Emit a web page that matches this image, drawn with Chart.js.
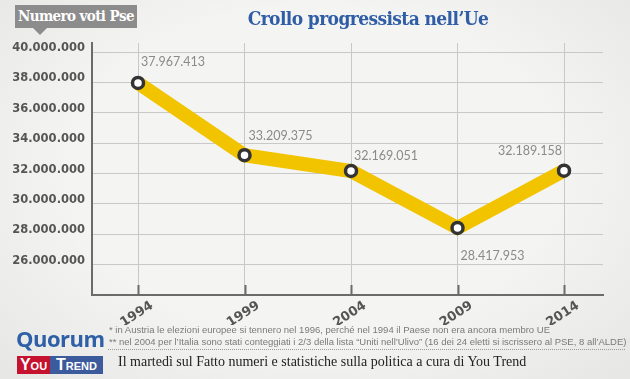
<!DOCTYPE html>
<html><head><meta charset="utf-8">
<script src="https://cdn.jsdelivr.net/npm/chart.js@4/dist/chart.umd.min.js"></script>
<style>
html,body{margin:0;padding:0;}
body{width:630px;height:379px;position:relative;overflow:hidden;background:radial-gradient(ellipse at 50% 45%, #f4f4f2 55%, #e6e6e4 100%);}
#c{position:absolute;left:0;top:0;}
#tag{position:absolute;left:15px;top:5px;width:122px;height:23px;background:#8c8c8c;color:#fff;font:bold 15px "DejaVu Serif Condensed","DejaVu Serif",serif;font-stretch:condensed;line-height:23px;text-align:center;letter-spacing:-0.6px;}
#tag:after{content:"";position:absolute;left:18px;top:23px;border-left:7px solid transparent;border-right:7px solid transparent;border-top:7px solid #8c8c8c;}
#title{position:absolute;left:243px;top:7px;width:250px;text-align:center;color:#2f5da6;font:bold 19px "DejaVu Serif Condensed","DejaVu Serif",serif;font-stretch:condensed;letter-spacing:-0.6px;white-space:nowrap;}
#quorum{position:absolute;left:16px;top:325px;color:#2f5fa6;font:bold 22px "Open Sans",sans-serif;letter-spacing:-0.5px;line-height:26px;}
#yt{position:absolute;left:17px;top:356px;height:18px;width:86px;font:bold 16px "Liberation Sans Narrow","Liberation Sans",sans-serif;font-variant:small-caps;color:#fff;line-height:18px;}
#yt span{display:inline-block;height:18px;text-align:center;vertical-align:top;}
#yt .y{background:#c4122f;width:33px;}
#yt .t{background:#3b5b9c;width:53px;}
.fn{position:absolute;left:109px;color:#7a7a7a;font:9.5px "Liberation Sans Narrow","Liberation Sans",sans-serif;white-space:nowrap;}
#dots{position:absolute;left:108px;top:349px;width:517px;border-top:1px dotted #9a9a9a;}
#sub{position:absolute;left:118px;top:354px;color:#222;font:14px "Liberation Serif",serif;white-space:nowrap;}
</style></head><body>
<canvas id="c" width="630" height="379"></canvas>
<div id="tag">Numero voti Pse</div>
<div id="title">Crollo progressista nell’Ue</div>
<div id="quorum">Quorum</div>
<div id="yt"><span class="y">You</span><span class="t">Trend</span></div>
<div class="fn" style="top:324px">* in Austria le elezioni europee si tennero nel 1996, perché nel 1994 il Paese non era ancora membro UE</div>
<div class="fn" style="top:336px">** nel 2004 per l’Italia sono stati conteggiati i 2/3 della lista “Uniti nell’Ulivo” (16 dei 24 eletti si iscrissero al PSE, 8 all’ALDE)</div>
<div id="dots"></div>
<div id="sub">Il martedì sul Fatto numeri e statistiche sulla politica a cura di You Trend</div>
<script>
// ---- data ----
const years = [1994, 1999, 2004, 2009, 2014];
const votes = [37967413, 33209375, 32169051, 28417953, 32189158];
const yTickValues = [24000000, 26000000, 28000000, 30000000, 32000000, 34000000, 36000000, 38000000, 40000000];

// label placement (style only): [dx, dy, align]
const labelPlacement = [[3, -21, 'left'], [4, -19, 'left'], [3, -15, 'left'], [3, 28, 'left'], [-2, -20, 'right']];

function fmt(n){ return String(n).replace(/\B(?=(\d{3})+(?!\d))/g, '.'); }

const labelPlugin = {
  id: 'valueLabels',
  beforeDatasetsDraw(chart){
    const ctx = chart.ctx, xs = chart.scales.x, area = chart.chartArea;
    ctx.save();
    ctx.strokeStyle = '#6b6b6b'; ctx.lineWidth = 2;
    years.forEach(y => {
      const px = Math.round(xs.getPixelForValue(y)) + 0.5;
      ctx.beginPath(); ctx.moveTo(px, area.bottom); ctx.lineTo(px, area.bottom - 10); ctx.stroke();
    });
    ctx.restore();
  },
  afterDatasetsDraw(chart){
    const ctx = chart.ctx, meta = chart.getDatasetMeta(0);
    ctx.save();
    ctx.font = '12.5px Lato, "Open Sans", sans-serif';
    ctx.fillStyle = '#8a8a8a';
    ctx.textBaseline = 'middle';
    meta.data.forEach((pt, i) => {
      const p = labelPlacement[i];
      ctx.textAlign = p[2];
      ctx.fillText(fmt(votes[i]), pt.x + p[0], pt.y + p[1]);
    });
    ctx.restore();
  }
};

const yFont = {family: '"DejaVu Sans", sans-serif', size: 11.5, weight: 'bold'};
const xFont = {family: '"DejaVu Sans", sans-serif', size: 13, weight: 'bold'};

new Chart(document.getElementById('c'), {
  type: 'line',
  data: {
    datasets: [{
      data: years.map((y, i) => ({x: y, y: votes[i]})),
      borderColor: '#f2c400',
      borderWidth: 14,
      borderJoinStyle: 'miter',
      tension: 0,
      pointRadius: 5.5,
      pointBorderWidth: 3.5,
      pointBackgroundColor: '#ffffff',
      pointBorderColor: '#333333',
      fill: false
    }]
  },
  options: {
    responsive: false,
    animation: false,
    devicePixelRatio: 1,
    layout: {padding: {top: 43, right: 27, bottom: 54, left: 0}},
    plugins: {legend: {display: false}, tooltip: {enabled: false}},
    scales: {
      x: {
        type: 'linear',
        min: 1991.84, max: 2015.83,
        afterBuildTicks: s => { s.ticks = years.map(v => ({value: v})); },
        afterFit: s => { s.height = 30; },
        grid: {color: '#c8c8c8', lineWidth: 1, drawTicks: false},
        border: {color: '#6b6b6b', width: 2},
        ticks: {
          autoSkip: false, minRotation: 33, maxRotation: 33,
          labelOffset: 14, padding: 3,
          color: '#555555', font: xFont,
          callback: v => String(v)
        }
      },
      y: {
        type: 'linear',
        min: 24000000, max: 40600000,
        afterBuildTicks: s => { s.ticks = yTickValues.map(v => ({value: v})); },
        afterFit: s => { s.width = 92; },
        grid: {color: '#c8c8c8', lineWidth: 1, drawTicks: false},
        border: {color: '#6b6b6b', width: 2},
        ticks: {
          padding: 7, labelOffset: -4,
          color: '#555555', font: yFont,
          callback: v => v === 24000000 ? '' : fmt(v)
        }
      }
    }
  },
  plugins: [labelPlugin]
});
</script>
</body></html>
